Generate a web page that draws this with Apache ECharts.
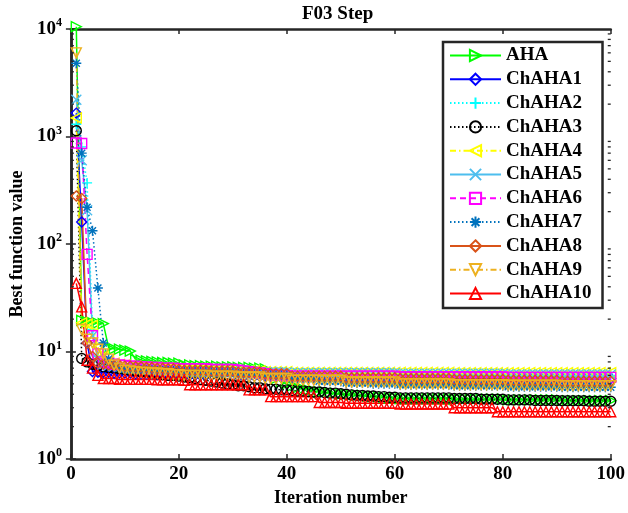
<!DOCTYPE html>
<html>
<head>
<meta charset="utf-8">
<script src="https://cdn.jsdelivr.net/npm/echarts@6/dist/echarts.min.js"></script>
<style>html,body{margin:0;padding:0;background:#fff}#c{width:628px;height:513px}</style>
</head>
<body>
<div id="c"></div>
<script>
const seriesNames = ['AHA','ChAHA1','ChAHA2','ChAHA3','ChAHA4','ChAHA5','ChAHA6','ChAHA7','ChAHA8','ChAHA9','ChAHA10'];
const iterations = Array.from({length:100},(_,i)=>i+1);
const xTicks = [0,20,40,60,80,100];
const yMinorTicks = [2,3,4,5,6,7,8,9,20,30,40,50,60,70,80,90,200,300,400,500,600,700,800,900,2000,3000,4000,5000,6000,7000,8000,9000];

const AHA = [10500,19.5,19.0,18.6,18.4,18.2,10.8,10.6,10.5,10.3,
 10.1,8.4,8.3,8.2,8.1,8.0,7.9,7.9,7.8,7.8,
 7.5,7.5,7.4,7.4,7.3,7.3,7.3,7.2,7.2,7.2,
 7.1,7.1,7.1,7.0,7.0,6.9,6.2,5.6,5.2,5.0,
 4.8,4.6,4.5,4.4,4.3,4.2,4.2,4.1,4.1,4.0,
 4.0,3.95,3.9,3.9,3.85,3.8,3.8,3.75,3.7,3.7,
 3.65,3.65,3.65,3.65,3.65,3.65,3.65,3.65,3.65,3.65,
 3.6,3.6,3.6,3.6,3.6,3.6,3.6,3.6,3.6,3.6,
 3.55,3.55,3.55,3.55,3.55,3.55,3.55,3.55,3.55,3.55,
 3.5,3.5,3.5,3.5,3.5,3.5,3.5,3.5,3.5,3.5];
const ChAHA1 = [1650,160,12,6.5,6.4,6.4,6.4,6.3,6.3,6.3,
 6.3,6.2,6.2,6.2,6.2,6.1,6.1,6.1,6.1,6.1,
 6.0,6.0,6.0,6.0,6.0,6.0,6.0,6.0,6.0,6.0,
 5.9,5.9,5.9,5.9,5.9,5.9,5.9,5.9,5.9,5.9,
 5.8,5.8,5.8,5.8,5.8,5.8,5.8,5.8,5.8,5.8,
 5.7,5.7,5.7,5.7,5.7,5.7,5.7,5.7,5.7,5.7,
 5.65,5.65,5.65,5.65,5.65,5.65,5.65,5.65,5.65,5.65,
 5.65,5.65,5.65,5.65,5.65,5.65,5.65,5.65,5.65,5.65,
 5.6,5.6,5.6,5.6,5.6,5.6,5.6,5.6,5.6,5.6,
 5.6,5.6,5.6,5.6,5.6,5.6,5.6,5.6,5.6,5.6];
const ChAHA2 = [1300,800,370,16,9,7.8,7.6,7.5,7.4,7.3,
 7.2,7.1,7.0,7.0,6.9,6.9,6.8,6.8,6.7,6.7,
 6.6,6.6,6.6,6.6,6.6,6.5,6.5,6.5,6.5,6.5,
 6.4,6.4,6.4,6.4,6.4,6.3,6.3,6.3,6.3,6.3,
 6.2,6.2,6.2,6.2,6.2,6.2,6.2,6.2,6.2,6.2,
 6.2,6.2,6.2,6.2,6.2,6.2,6.2,6.2,6.2,6.2,
 6.1,6.1,6.1,6.1,6.1,6.1,6.1,6.1,6.1,6.1,
 6.1,6.1,6.1,6.1,6.1,6.1,6.1,6.1,6.1,6.1,
 6.0,6.0,6.0,6.0,6.0,6.0,6.0,6.0,6.0,6.0,
 6.0,6.0,6.0,6.0,6.0,6.0,6.0,6.0,6.0,6.0];
const ChAHA3 = [1130,8.6,8.0,7.6,7.4,7.2,7.1,7.0,6.9,6.8,
 6.7,6.6,6.5,6.4,6.3,6.2,6.1,6.0,6.0,5.9,
 5.8,5.7,5.6,5.5,5.4,5.3,5.2,5.1,5.0,4.9,
 4.8,4.8,4.7,4.6,4.6,4.5,4.45,4.45,4.4,4.4,
 4.35,4.3,4.3,4.25,4.2,4.2,4.15,4.1,4.1,4.05,
 4.0,3.95,3.9,3.9,3.85,3.85,3.8,3.8,3.75,3.75,
 3.7,3.7,3.7,3.7,3.7,3.7,3.7,3.7,3.7,3.7,
 3.65,3.65,3.65,3.65,3.65,3.6,3.6,3.6,3.6,3.6,
 3.55,3.55,3.55,3.55,3.55,3.5,3.5,3.5,3.5,3.5,
 3.48,3.48,3.48,3.48,3.48,3.45,3.45,3.45,3.45,3.45];
const ChAHA4 = [1490,18.5,18.0,17.5,11,9,8.2,7.8,7.6,7.5,
 7.4,7.3,7.2,7.2,7.1,7.1,7.0,7.0,6.9,6.9,
 6.8,6.8,6.8,6.8,6.8,6.7,6.7,6.7,6.7,6.7,
 6.6,6.6,6.6,6.6,6.6,6.5,6.5,6.5,6.5,6.5,
 6.4,6.4,6.4,6.4,6.4,6.4,6.4,6.4,6.4,6.4,
 6.4,6.4,6.4,6.4,6.4,6.4,6.4,6.4,6.4,6.4,
 6.4,6.4,6.4,6.4,6.4,6.4,6.4,6.4,6.4,6.4,
 6.35,6.35,6.35,6.35,6.35,6.35,6.35,6.35,6.35,6.35,
 6.35,6.35,6.35,6.35,6.35,6.35,6.35,6.35,6.35,6.35,
 6.35,6.35,6.35,6.35,6.35,6.35,6.35,6.35,6.35,6.35];
const ChAHA5 = [2200,600,206,14,8.5,7.6,7.4,7.3,7.2,7.1,
 7.0,7.0,6.9,6.9,6.8,6.8,6.7,6.7,6.6,6.6,
 6.5,6.5,6.5,6.5,6.5,6.5,6.5,6.5,6.5,6.5,
 6.4,6.4,6.4,6.4,6.4,6.4,6.4,6.4,6.4,6.4,
 6.3,6.3,6.3,6.3,6.3,6.3,6.3,6.3,6.3,6.3,
 6.3,6.3,6.3,6.3,6.3,6.3,6.3,6.3,6.3,6.3,
 6.2,6.2,6.2,6.2,6.2,6.2,6.2,6.2,6.2,6.2,
 6.2,6.2,6.2,6.2,6.2,6.2,6.2,6.2,6.2,6.2,
 6.1,6.1,6.1,6.1,6.1,6.1,6.1,6.1,6.1,6.1,
 6.1,6.1,6.1,6.1,6.1,6.1,6.1,6.1,6.1,6.1];
const ChAHA6 = [870,860,80,14,9.5,8.0,7.8,7.6,7.5,7.4,
 7.3,7.3,7.2,7.2,7.1,7.1,7.0,7.0,7.0,6.9,
 6.9,6.9,6.9,6.9,6.9,6.8,6.8,6.8,6.8,6.8,
 6.7,6.6,6.5,6.4,6.3,6.2,6.1,6.0,6.0,5.95,
 5.9,5.9,5.9,5.9,5.9,5.9,5.9,5.9,5.9,5.9,
 5.9,5.9,5.9,5.9,5.9,5.9,5.9,5.9,5.9,5.9,
 5.8,5.8,5.8,5.8,5.8,5.8,5.8,5.8,5.8,5.8,
 5.8,5.8,5.8,5.8,5.8,5.8,5.8,5.8,5.8,5.8,
 5.75,5.75,5.75,5.75,5.75,5.75,5.75,5.75,5.75,5.75,
 5.75,5.75,5.75,5.75,5.75,5.75,5.75,5.75,5.75,5.75];
const ChAHA7 = [4800,700,220,133,39,12,8.5,7.5,7.0,6.8,
 6.7,6.7,6.7,6.7,6.7,6.6,6.6,6.6,6.6,6.6,
 6.5,6.5,6.5,6.5,6.5,6.4,6.4,6.4,6.4,6.4,
 6.2,6.2,6.2,6.2,6.2,6.0,6.0,6.0,6.0,6.0,
 5.6,5.6,5.6,5.6,5.6,5.3,5.3,5.3,5.3,5.3,
 5.1,5.1,5.1,5.1,5.1,5.0,5.0,5.0,5.0,5.0,
 4.9,4.9,4.9,4.9,4.9,4.9,4.9,4.9,4.9,4.9,
 4.8,4.8,4.8,4.8,4.8,4.8,4.8,4.8,4.8,4.8,
 4.7,4.7,4.7,4.7,4.7,4.7,4.7,4.7,4.7,4.7,
 4.65,4.65,4.65,4.65,4.65,4.65,4.65,4.65,4.65,4.65];
const ChAHA8 = [280,265,12,9,7.8,7.6,7.5,7.4,7.4,7.3,
 7.3,7.2,7.2,7.1,7.1,7.0,7.0,6.9,6.9,6.8,
 6.7,6.7,6.7,6.7,6.7,6.6,6.6,6.6,6.6,6.6,
 6.4,6.4,6.4,6.4,6.4,6.2,6.2,6.2,6.2,6.2,
 5.9,5.9,5.9,5.9,5.9,5.9,5.9,5.9,5.9,5.9,
 5.7,5.7,5.7,5.7,5.7,5.7,5.7,5.7,5.7,5.7,
 5.6,5.6,5.6,5.6,5.6,5.6,5.6,5.6,5.6,5.6,
 5.5,5.5,5.5,5.5,5.5,5.5,5.5,5.5,5.5,5.5,
 5.4,5.4,5.4,5.4,5.4,5.4,5.4,5.4,5.4,5.4,
 5.3,5.3,5.3,5.3,5.3,5.3,5.3,5.3,5.3,5.3];
const ChAHA9 = [6000,16,13,12,10.5,9.5,8.5,7.5,7.0,6.7,
 6.6,6.5,6.4,6.4,6.3,6.3,6.2,6.2,6.1,6.1,
 6.0,6.0,6.0,6.0,6.0,5.9,5.9,5.9,5.9,5.9,
 5.8,5.8,5.8,5.8,5.8,5.6,5.6,5.6,5.6,5.6,
 5.4,5.4,5.4,5.4,5.4,5.4,5.4,5.4,5.4,5.4,
 5.2,5.2,5.2,5.2,5.2,5.2,5.2,5.2,5.2,5.2,
 5.0,5.0,5.0,5.0,5.0,5.0,5.0,5.0,5.0,5.0,
 4.9,4.9,4.9,4.9,4.9,4.9,4.9,4.9,4.9,4.9,
 4.85,4.85,4.85,4.85,4.85,4.85,4.85,4.85,4.85,4.85,
 4.8,4.8,4.8,4.8,4.8,4.8,4.8,4.8,4.8,4.8];
const ChAHA10 = [43,26,8.3,7.0,6.0,5.6,5.6,5.6,5.5,5.5,
 5.5,5.5,5.5,5.5,5.5,5.45,5.45,5.45,5.45,5.45,
 5.4,4.9,4.9,4.9,4.9,4.9,4.9,4.9,4.9,4.9,
 4.9,4.9,4.4,4.4,4.4,4.4,3.8,3.8,3.8,3.8,
 3.8,3.8,3.8,3.8,3.8,3.35,3.35,3.35,3.35,3.35,
 3.3,3.3,3.3,3.3,3.3,3.3,3.3,3.3,3.3,3.3,
 3.25,3.25,3.25,3.25,3.25,3.25,3.25,3.25,3.25,3.25,
 3.0,3.0,3.0,3.0,3.0,3.0,3.0,3.0,2.75,2.75,
 2.75,2.75,2.75,2.75,2.75,2.75,2.75,2.75,2.75,2.75,
 2.75,2.75,2.75,2.75,2.75,2.75,2.75,2.75,2.75,2.75];

const allData = [AHA,ChAHA1,ChAHA2,ChAHA3,ChAHA4,ChAHA5,ChAHA6,ChAHA7,ChAHA8,ChAHA9,ChAHA10];

const FONT = 'Liberation Serif';
const AX = '#262626';
const DOT = [1.5,2.5], DASH = [6,4], DASHDOT = [6,3,1.5,3];
const P_PLUS = 'path://M5,0L5,10M0,5L10,5';
const P_X = 'path://M0,0L10,10M10,0L0,10';
const P_AST = 'path://M5,0L5,10M0,5L10,5M1.5,1.5L8.5,8.5M8.5,1.5L1.5,8.5';
const styles = [
  {c:'#00FF00', s:'triangle', r:-90, d:'solid'},
  {c:'#0000FF', s:'diamond', r:0, d:'solid'},
  {c:'#00FFFF', s:P_PLUS, r:0, d:DOT},
  {c:'#000000', s:'circle', r:0, d:DOT},
  {c:'#FFFF00', s:'triangle', r:90, d:DASHDOT},
  {c:'#4DBEEE', s:P_X, r:0, d:'solid'},
  {c:'#FF00FF', s:'rect', r:0, d:DASH},
  {c:'#0072BD', s:P_AST, r:0, d:DOT},
  {c:'#D95319', s:'diamond', r:0, d:'solid'},
  {c:'#EDB120', s:'triangle', r:180, d:DASHDOT},
  {c:'#FF0000', s:'triangle', r:0, d:'solid'}
];

const series = seriesNames.map((n,k)=>({
  name:n, type:'line', xAxisIndex:0, yAxisIndex:0,
  data: iterations.map((x,i)=>[x, allData[k][i]]),
  symbol: styles[k].s, symbolSize: 10, symbolRotate: styles[k].r, symbolKeepAspect:true,
  showAllSymbol:true, clip:false, animation:false,
  lineStyle:{color:styles[k].c, width:1.5, type:styles[k].d},
  itemStyle:{color:'rgba(255,255,255,0)', borderColor:styles[k].c, borderWidth:1.4},
  emphasis:{disabled:true}
}));

series.push({
  type:'custom', name:'minor', xAxisIndex:0, yAxisIndex:0, silent:true, clip:false, z:6,
  data: yMinorTicks.map(v=>[0,v]),
  renderItem(params, api){
    const v = api.value(1);
    const a = api.coord([0, v]);
    const b = api.coord([100, v]);
    return {type:'group', children:[
      {type:'line', shape:{x1:a[0], y1:a[1], x2:a[0]+3, y2:a[1]}, style:{stroke:AX, lineWidth:1.3}},
      {type:'line', shape:{x1:b[0]-3, y1:b[1], x2:b[0], y2:b[1]}, style:{stroke:AX, lineWidth:1.3}}
    ]};
  }
});

const yLabel = v => '{b|10}{s|' + Math.round(Math.log10(v)) + '}';

const option = {
  animation:false,
  backgroundColor:'#fff',
  title:{text:'F03 Step', left:302, top:5, padding:0,
    textStyle:{fontFamily:FONT, fontWeight:'bold', fontSize:19, color:'#000'}},
  grid:{left:65, right:16, top:29, bottom:54},
  legend:{
    orient:'vertical', left:443, top:42, data:seriesNames,
    itemWidth:51, itemHeight:14, itemGap:4.8, padding:[4,11,5,6],
    backgroundColor:'#fff', borderColor:AX, borderWidth:2.5, borderRadius:0,
    textStyle:{fontFamily:FONT, fontWeight:'bold', fontSize:19, color:'#000'},
    selectedMode:false
  },
  xAxis:[{
    type:'value', min:0, max:100, interval:20, position:'bottom',
    name:'Iteration number', nameLocation:'middle', nameGap:29,
    nameTextStyle:{fontFamily:FONT, fontWeight:'bold', fontSize:18, color:'#000'},
    axisLine:{lineStyle:{color:AX, width:2.5}},
    axisTick:{inside:true, length:5, lineStyle:{color:AX, width:1.5}},
    axisLabel:{fontFamily:FONT, fontWeight:'bold', fontSize:19, color:'#000', margin:6,
      customValues:xTicks},
    splitLine:{show:false}
  },{
    type:'value', min:0, max:100, interval:20, position:'top',
    axisLine:{lineStyle:{color:AX, width:2.5}},
    axisTick:{inside:true, length:5, lineStyle:{color:AX, width:1.5}},
    axisLabel:{show:false}, splitLine:{show:false}
  }],
  yAxis:[{
    type:'log', logBase:10, min:1, max:10000, position:'left',
    name:'Best function value', nameLocation:'middle', nameGap:38,
    nameTextStyle:{fontFamily:FONT, fontWeight:'bold', fontSize:18, color:'#000'},
    axisLine:{lineStyle:{color:AX, width:2.5}},
    axisTick:{inside:true, length:5, lineStyle:{color:AX, width:1.5}},
    axisLabel:{formatter:yLabel, margin:9, color:'#000',
      rich:{
        b:{fontFamily:FONT, fontSize:19, fontWeight:'bold', color:'#000', lineHeight:24},
        s:{fontFamily:FONT, fontSize:12, fontWeight:'bold', color:'#000', lineHeight:12, verticalAlign:'top'}
      }},
    splitLine:{show:false}
  },{
    type:'log', logBase:10, min:1, max:10000, position:'right',
    axisLine:{lineStyle:{color:AX, width:2.5}},
    axisTick:{inside:true, length:5, lineStyle:{color:AX, width:1.5}},
    axisLabel:{show:false}, splitLine:{show:false}
  }],
  series: series
};

const chart = echarts.init(document.getElementById('c'), null, {renderer:'canvas'});
chart.setOption(option);
</script>
</body>
</html>
